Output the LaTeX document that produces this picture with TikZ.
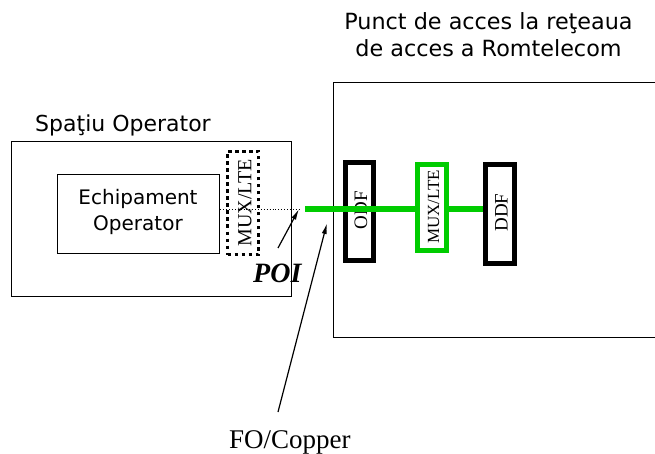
\documentclass[tikz,border=0pt]{standalone}
\usepackage{fontspec}
\setmainfont{Liberation Serif}
\newfontfamily\sansf{DejaVu Sans}
\usetikzlibrary{arrows.meta}
\definecolor{lgreen}{RGB}{0,204,0}
\begin{document}
\begin{tikzpicture}[x=1pt,y=1pt,
  frame/.style={draw, line width=1.3pt, inner sep=0pt, anchor=north west},
  thickbox/.style={draw, line width=5pt, inner sep=0pt},
  vtext/.style={rotate=90, inner sep=0pt, font=\fontsize{19}{19}\selectfont},
  lbl/.style={inner sep=0pt, font=\sansf\fontsize{22.3}{27}\selectfont, align=center},
  arr/.style={line width=1.2pt, -{Latex[length=11pt,width=5pt]}}]
\useasboundingbox (0,0) rectangle (655,-454);

% titles
\node[lbl, anchor=base] (title) at (488.5,-57) {Punct de acces la reţeaua\\de acces a Romtelecom};
\node[lbl, anchor=base west, font=\sansf\fontsize{22}{27}\selectfont] (optitle) at (35,-132) {Spaţiu Operator};

% outer boxes
\node[frame, minimum width=280pt, minimum height=155pt] (opspace) at (11,-141) {};
\node[frame, minimum width=323pt, minimum height=255pt] (rtspace) at (333,-82) {};

% operator equipment
\node[frame, minimum width=162pt, minimum height=79pt] (equip) at (57,-174) {};
\node[inner sep=0pt, anchor=base, font=\sansf\fontsize{20}{25}\selectfont, align=center] (equipt) at (138,-230) {Echipament\\Operator};

% dotted MUX/LTE
\node[draw, line width=3.5pt, dash pattern=on 3.5pt off 3.5pt, minimum width=31pt, minimum height=103pt, inner sep=0pt] (muxop) at (243,-203) {};
\node[vtext, font=\fontsize{20}{20}\selectfont] (muxopt) at (245,-203) {MUX/LTE};

% Romtelecom equipment
\node[thickbox, minimum width=28pt, minimum height=98pt] (odf) at (359.5,-211.5) {};
\node[vtext] (odft) at (361,-210) {ODF};
\node[thickbox, draw=lgreen, minimum width=29pt, minimum height=86pt] (mux) at (432,-207.5) {};
\node[vtext, font=\fontsize{17}{17}\selectfont] (muxt) at (433.5,-207) {MUX/LTE};
\node[thickbox, minimum width=29pt, minimum height=99pt] (ddf) at (500,-214) {};
\node[vtext] (ddft) at (501.5,-212.5) {DDF};

% connections
\coordinate (gstart) at (305,-209.5);
\coordinate (poi) at (299,-209);
\draw[lgreen, line width=6pt] (gstart) -- (gstart -| mux.west);
\draw[lgreen, line width=6pt] (gstart -| mux.east) -- (gstart -| ddf.west);
\draw[dotted, line width=0.9pt] (equip.east |- poi) -- (poi);

\node[anchor=base west, inner sep=0pt, font=\bfseries\itshape\fontsize{28}{28}\selectfont] (poilbl) at (253,-282) {POI};
\coordinate (a1t) at (278,-248);
\draw[arr] (a1t) -- (poi);

\node[anchor=base west, inner sep=0pt, font=\fontsize{27}{27}\selectfont] (fo) at (229,-448) {FO/Copper};
\coordinate (a2t) at (278,-412);
\coordinate (a2h) at (327,-223);
\draw[arr] (a2t) -- (a2h);
\end{tikzpicture}
\end{document}
